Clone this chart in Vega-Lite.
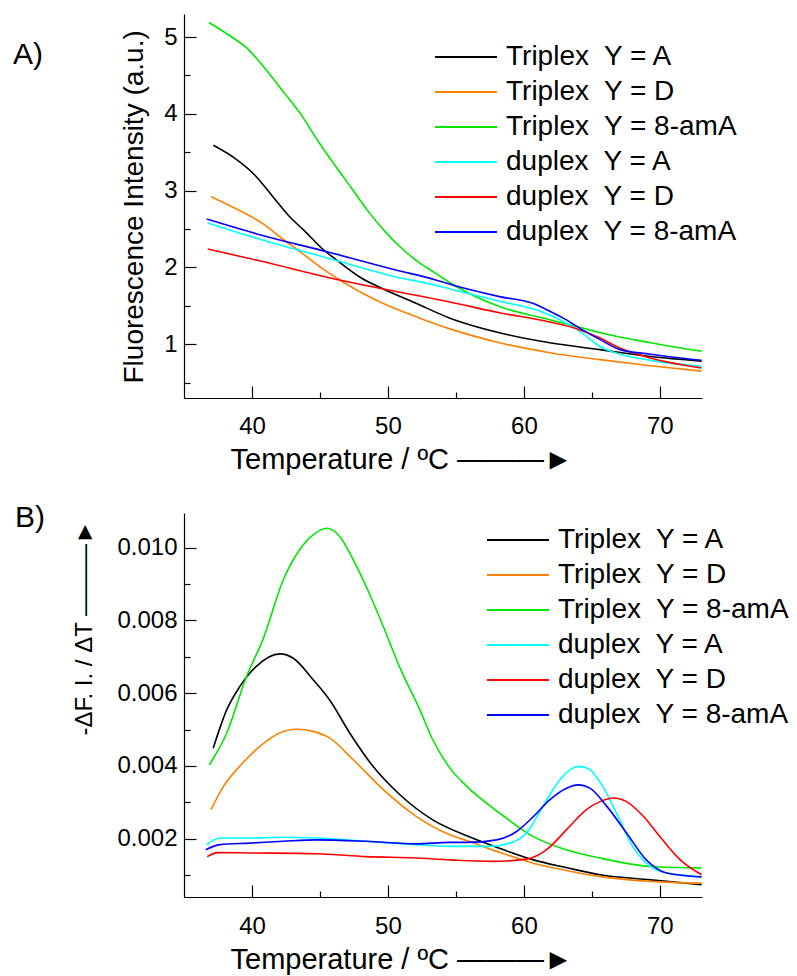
{
  "$schema": "https://vega.github.io/schema/vega-lite/v6.json",
  "padding": {"left": 13, "top": 14, "right": 5, "bottom": 5},
  "config": {
    "view": {"stroke": null},
    "font": "Liberation Sans",
    "axis": {"grid": false, "domainColor": "black", "domainWidth": 1.2, "tickColor": "black", "tickWidth": 1.2, "tickSize": 0, "labelColor": "black", "titleColor": "black", "labelFont": "Liberation Sans", "titleFont": "Liberation Sans", "labelFontSize": 24, "titleFontWeight": "normal", "labelFlush": false, "labelOverlap": false, "labelBound": false, "titleAlign": "left", "titleBaseline": "alphabetic"},
    "legend": {"orient": "none", "title": null, "labelFont": "Liberation Sans", "labelFontSize": 28, "labelColor": "black", "symbolType": "stroke", "symbolSize": 3844, "symbolStrokeWidth": 2, "clipHeight": 30, "rowPadding": 5, "labelOffset": 8, "padding": 0, "labelLimit": 400},
    "title": {"font": "Liberation Sans", "fontSize": 30, "fontWeight": "normal", "color": "black", "anchor": "start", "frame": "group", "baseline": "alphabetic", "offset": 0}
  },
  "bounds": "flush",
  "spacing": 115,
  "resolve": {"legend": {"color": "independent"}, "scale": {"color": "independent"}},
  "datasets": {
    "a": [
      {"s": "Triplex\u00a0 Y = A", "t": 37.16, "v": 3.59},
      {"s": "Triplex\u00a0 Y = A", "t": 38.75, "v": 3.42},
      {"s": "Triplex\u00a0 Y = A", "t": 40.22, "v": 3.2},
      {"s": "Triplex\u00a0 Y = A", "t": 41.45, "v": 2.94},
      {"s": "Triplex\u00a0 Y = A", "t": 42.67, "v": 2.68},
      {"s": "Triplex\u00a0 Y = A", "t": 43.9, "v": 2.47},
      {"s": "Triplex\u00a0 Y = A", "t": 45.13, "v": 2.25},
      {"s": "Triplex\u00a0 Y = A", "t": 46.35, "v": 2.08},
      {"s": "Triplex\u00a0 Y = A", "t": 48.07, "v": 1.86},
      {"s": "Triplex\u00a0 Y = A", "t": 49.54, "v": 1.73},
      {"s": "Triplex\u00a0 Y = A", "t": 51.99, "v": 1.54},
      {"s": "Triplex\u00a0 Y = A", "t": 54.56, "v": 1.34},
      {"s": "Triplex\u00a0 Y = A", "t": 58.2, "v": 1.15},
      {"s": "Triplex\u00a0 Y = A", "t": 61.9, "v": 1.02},
      {"s": "Triplex\u00a0 Y = A", "t": 65.6, "v": 0.93},
      {"s": "Triplex\u00a0 Y = A", "t": 69.3, "v": 0.84},
      {"s": "Triplex\u00a0 Y = A", "t": 73.07, "v": 0.78},

      {"s": "Triplex\u00a0 Y = D", "t": 36.99, "v": 2.92},
      {"s": "Triplex\u00a0 Y = D", "t": 38.75, "v": 2.77},
      {"s": "Triplex\u00a0 Y = D", "t": 40.71, "v": 2.58},
      {"s": "Triplex\u00a0 Y = D", "t": 42.18, "v": 2.38},
      {"s": "Triplex\u00a0 Y = D", "t": 43.65, "v": 2.19},
      {"s": "Triplex\u00a0 Y = D", "t": 45.13, "v": 1.99},
      {"s": "Triplex\u00a0 Y = D", "t": 46.6, "v": 1.82},
      {"s": "Triplex\u00a0 Y = D", "t": 48.07, "v": 1.67},
      {"s": "Triplex\u00a0 Y = D", "t": 49.78, "v": 1.52},
      {"s": "Triplex\u00a0 Y = D", "t": 52.35, "v": 1.34},
      {"s": "Triplex\u00a0 Y = D", "t": 54.56, "v": 1.2},
      {"s": "Triplex\u00a0 Y = D", "t": 58.2, "v": 1.02},
      {"s": "Triplex\u00a0 Y = D", "t": 61.9, "v": 0.89},
      {"s": "Triplex\u00a0 Y = D", "t": 65.6, "v": 0.8},
      {"s": "Triplex\u00a0 Y = D", "t": 69.3, "v": 0.72},
      {"s": "Triplex\u00a0 Y = D", "t": 73.07, "v": 0.65},

      {"s": "Triplex\u00a0 Y = 8-amA", "t": 36.84, "v": 5.19},
      {"s": "Triplex\u00a0 Y = 8-amA", "t": 38.26, "v": 5.03},
      {"s": "Triplex\u00a0 Y = 8-amA", "t": 39.73, "v": 4.84},
      {"s": "Triplex\u00a0 Y = 8-amA", "t": 40.96, "v": 4.59},
      {"s": "Triplex\u00a0 Y = 8-amA", "t": 42.43, "v": 4.26},
      {"s": "Triplex\u00a0 Y = 8-amA", "t": 43.65, "v": 3.98},
      {"s": "Triplex\u00a0 Y = 8-amA", "t": 44.88, "v": 3.64},
      {"s": "Triplex\u00a0 Y = 8-amA", "t": 46.1, "v": 3.33},
      {"s": "Triplex\u00a0 Y = 8-amA", "t": 47.33, "v": 3.03},
      {"s": "Triplex\u00a0 Y = 8-amA", "t": 48.55, "v": 2.73},
      {"s": "Triplex\u00a0 Y = 8-amA", "t": 49.78, "v": 2.47},
      {"s": "Triplex\u00a0 Y = 8-amA", "t": 51.0, "v": 2.25},
      {"s": "Triplex\u00a0 Y = 8-amA", "t": 52.48, "v": 2.04},
      {"s": "Triplex\u00a0 Y = 8-amA", "t": 53.46, "v": 1.93},
      {"s": "Triplex\u00a0 Y = 8-amA", "t": 54.56, "v": 1.8},
      {"s": "Triplex\u00a0 Y = 8-amA", "t": 58.2, "v": 1.49},
      {"s": "Triplex\u00a0 Y = 8-amA", "t": 61.9, "v": 1.32},
      {"s": "Triplex\u00a0 Y = 8-amA", "t": 64.1, "v": 1.22},
      {"s": "Triplex\u00a0 Y = 8-amA", "t": 65.6, "v": 1.15},
      {"s": "Triplex\u00a0 Y = 8-amA", "t": 69.3, "v": 1.02},
      {"s": "Triplex\u00a0 Y = 8-amA", "t": 73.07, "v": 0.91},

      {"s": "duplex\u00a0 Y = A", "t": 36.74, "v": 2.58},
      {"s": "duplex\u00a0 Y = A", "t": 40.71, "v": 2.36},
      {"s": "duplex\u00a0 Y = A", "t": 45.6, "v": 2.12},
      {"s": "duplex\u00a0 Y = A", "t": 50.5, "v": 1.88},
      {"s": "duplex\u00a0 Y = A", "t": 53.46, "v": 1.77},
      {"s": "duplex\u00a0 Y = A", "t": 54.56, "v": 1.72},
      {"s": "duplex\u00a0 Y = A", "t": 58.2, "v": 1.56},
      {"s": "duplex\u00a0 Y = A", "t": 61.2, "v": 1.43},
      {"s": "duplex\u00a0 Y = A", "t": 62.65, "v": 1.32},
      {"s": "duplex\u00a0 Y = A", "t": 64.1, "v": 1.17},
      {"s": "duplex\u00a0 Y = A", "t": 65.6, "v": 0.97},
      {"s": "duplex\u00a0 Y = A", "t": 67.06, "v": 0.87},
      {"s": "duplex\u00a0 Y = A", "t": 69.3, "v": 0.79},
      {"s": "duplex\u00a0 Y = A", "t": 73.07, "v": 0.71},

      {"s": "duplex\u00a0 Y = D", "t": 36.74, "v": 2.24},
      {"s": "duplex\u00a0 Y = D", "t": 40.71, "v": 2.08},
      {"s": "duplex\u00a0 Y = D", "t": 45.6, "v": 1.87},
      {"s": "duplex\u00a0 Y = D", "t": 50.5, "v": 1.69},
      {"s": "duplex\u00a0 Y = D", "t": 53.46, "v": 1.59},
      {"s": "duplex\u00a0 Y = D", "t": 54.56, "v": 1.55},
      {"s": "duplex\u00a0 Y = D", "t": 58.2, "v": 1.41},
      {"s": "duplex\u00a0 Y = D", "t": 61.9, "v": 1.29},
      {"s": "duplex\u00a0 Y = D", "t": 64.1, "v": 1.19},
      {"s": "duplex\u00a0 Y = D", "t": 65.6, "v": 1.08},
      {"s": "duplex\u00a0 Y = D", "t": 67.06, "v": 0.95},
      {"s": "duplex\u00a0 Y = D", "t": 69.3, "v": 0.82},
      {"s": "duplex\u00a0 Y = D", "t": 73.07, "v": 0.69},

      {"s": "duplex\u00a0 Y = 8-amA", "t": 36.67, "v": 2.63},
      {"s": "duplex\u00a0 Y = 8-amA", "t": 40.71, "v": 2.42},
      {"s": "duplex\u00a0 Y = 8-amA", "t": 45.6, "v": 2.2},
      {"s": "duplex\u00a0 Y = 8-amA", "t": 50.5, "v": 1.97},
      {"s": "duplex\u00a0 Y = 8-amA", "t": 53.46, "v": 1.84},
      {"s": "duplex\u00a0 Y = 8-amA", "t": 54.56, "v": 1.78},
      {"s": "duplex\u00a0 Y = 8-amA", "t": 58.2, "v": 1.62},
      {"s": "duplex\u00a0 Y = 8-amA", "t": 60.7, "v": 1.53},
      {"s": "duplex\u00a0 Y = 8-amA", "t": 61.9, "v": 1.43},
      {"s": "duplex\u00a0 Y = 8-amA", "t": 63.1, "v": 1.32},
      {"s": "duplex\u00a0 Y = 8-amA", "t": 64.1, "v": 1.21},
      {"s": "duplex\u00a0 Y = 8-amA", "t": 65.6, "v": 1.06},
      {"s": "duplex\u00a0 Y = 8-amA", "t": 67.06, "v": 0.93},
      {"s": "duplex\u00a0 Y = 8-amA", "t": 69.3, "v": 0.87},
      {"s": "duplex\u00a0 Y = 8-amA", "t": 73.07, "v": 0.79}
    ],
    "b": [
      {"s": "Triplex\u00a0 Y = A", "t": 37.15, "v": 0.00449},
      {"s": "Triplex\u00a0 Y = A", "t": 38.14, "v": 0.00554},
      {"s": "Triplex\u00a0 Y = A", "t": 39.1, "v": 0.00618},
      {"s": "Triplex\u00a0 Y = A", "t": 40.3, "v": 0.00673},
      {"s": "Triplex\u00a0 Y = A", "t": 42.06, "v": 0.00708},
      {"s": "Triplex\u00a0 Y = A", "t": 43.04, "v": 0.00696},
      {"s": "Triplex\u00a0 Y = A", "t": 44.5, "v": 0.00637},
      {"s": "Triplex\u00a0 Y = A", "t": 45.7, "v": 0.00582},
      {"s": "Triplex\u00a0 Y = A", "t": 47.2, "v": 0.0049},
      {"s": "Triplex\u00a0 Y = A", "t": 48.9, "v": 0.00399},
      {"s": "Triplex\u00a0 Y = A", "t": 50.88, "v": 0.00321},
      {"s": "Triplex\u00a0 Y = A", "t": 53.3, "v": 0.00252},
      {"s": "Triplex\u00a0 Y = A", "t": 55.8, "v": 0.00208},
      {"s": "Triplex\u00a0 Y = A", "t": 58.2, "v": 0.00174},
      {"s": "Triplex\u00a0 Y = A", "t": 60.7, "v": 0.00142},
      {"s": "Triplex\u00a0 Y = A", "t": 63.1, "v": 0.00121},
      {"s": "Triplex\u00a0 Y = A", "t": 65.6, "v": 0.00101},
      {"s": "Triplex\u00a0 Y = A", "t": 69.3, "v": 0.00087},
      {"s": "Triplex\u00a0 Y = A", "t": 73.07, "v": 0.00074},

      {"s": "Triplex\u00a0 Y = D", "t": 36.99, "v": 0.0028},
      {"s": "Triplex\u00a0 Y = D", "t": 37.9, "v": 0.00344},
      {"s": "Triplex\u00a0 Y = D", "t": 39.1, "v": 0.00399},
      {"s": "Triplex\u00a0 Y = D", "t": 40.3, "v": 0.00445},
      {"s": "Triplex\u00a0 Y = D", "t": 42.3, "v": 0.00495},
      {"s": "Triplex\u00a0 Y = D", "t": 43.3, "v": 0.00501},
      {"s": "Triplex\u00a0 Y = D", "t": 44.5, "v": 0.00495},
      {"s": "Triplex\u00a0 Y = D", "t": 45.7, "v": 0.00477},
      {"s": "Triplex\u00a0 Y = D", "t": 47.45, "v": 0.00417},
      {"s": "Triplex\u00a0 Y = D", "t": 49.66, "v": 0.00335},
      {"s": "Triplex\u00a0 Y = D", "t": 52.1, "v": 0.00261},
      {"s": "Triplex\u00a0 Y = D", "t": 54.56, "v": 0.00211},
      {"s": "Triplex\u00a0 Y = D", "t": 55.8, "v": 0.00195},
      {"s": "Triplex\u00a0 Y = D", "t": 58.2, "v": 0.00163},
      {"s": "Triplex\u00a0 Y = D", "t": 60.7, "v": 0.00133},
      {"s": "Triplex\u00a0 Y = D", "t": 63.1, "v": 0.00113},
      {"s": "Triplex\u00a0 Y = D", "t": 65.6, "v": 0.00096},
      {"s": "Triplex\u00a0 Y = D", "t": 69.3, "v": 0.00083},
      {"s": "Triplex\u00a0 Y = D", "t": 73.07, "v": 0.00078},

      {"s": "Triplex\u00a0 Y = 8-amA", "t": 36.86, "v": 0.00403},
      {"s": "Triplex\u00a0 Y = 8-amA", "t": 38.14, "v": 0.0049},
      {"s": "Triplex\u00a0 Y = 8-amA", "t": 39.6, "v": 0.00646},
      {"s": "Triplex\u00a0 Y = 8-amA", "t": 40.8, "v": 0.00747},
      {"s": "Triplex\u00a0 Y = 8-amA", "t": 42.3, "v": 0.00911},
      {"s": "Triplex\u00a0 Y = 8-amA", "t": 43.5, "v": 0.00994},
      {"s": "Triplex\u00a0 Y = 8-amA", "t": 44.5, "v": 0.01035},
      {"s": "Triplex\u00a0 Y = 8-amA", "t": 45.5, "v": 0.01053},
      {"s": "Triplex\u00a0 Y = 8-amA", "t": 46.47, "v": 0.0103},
      {"s": "Triplex\u00a0 Y = 8-amA", "t": 47.45, "v": 0.00966},
      {"s": "Triplex\u00a0 Y = 8-amA", "t": 48.4, "v": 0.00893},
      {"s": "Triplex\u00a0 Y = 8-amA", "t": 49.66, "v": 0.00783},
      {"s": "Triplex\u00a0 Y = 8-amA", "t": 50.88, "v": 0.0067},
      {"s": "Triplex\u00a0 Y = 8-amA", "t": 52.35, "v": 0.00554},
      {"s": "Triplex\u00a0 Y = 8-amA", "t": 53.3, "v": 0.00472},
      {"s": "Triplex\u00a0 Y = 8-amA", "t": 54.56, "v": 0.00394},
      {"s": "Triplex\u00a0 Y = 8-amA", "t": 55.8, "v": 0.00344},
      {"s": "Triplex\u00a0 Y = 8-amA", "t": 58.2, "v": 0.00271},
      {"s": "Triplex\u00a0 Y = 8-amA", "t": 60.7, "v": 0.00206},
      {"s": "Triplex\u00a0 Y = 8-amA", "t": 63.1, "v": 0.0017},
      {"s": "Triplex\u00a0 Y = 8-amA", "t": 65.6, "v": 0.00147},
      {"s": "Triplex\u00a0 Y = 8-amA", "t": 69.3, "v": 0.00124},
      {"s": "Triplex\u00a0 Y = 8-amA", "t": 73.07, "v": 0.0012},

      {"s": "duplex\u00a0 Y = A", "t": 36.67, "v": 0.00184},
      {"s": "duplex\u00a0 Y = A", "t": 37.65, "v": 0.00202},
      {"s": "duplex\u00a0 Y = A", "t": 39.85, "v": 0.00202},
      {"s": "duplex\u00a0 Y = A", "t": 42.3, "v": 0.00204},
      {"s": "duplex\u00a0 Y = A", "t": 44.75, "v": 0.00202},
      {"s": "duplex\u00a0 Y = A", "t": 48.4, "v": 0.00193},
      {"s": "duplex\u00a0 Y = A", "t": 52.1, "v": 0.00184},
      {"s": "duplex\u00a0 Y = A", "t": 54.56, "v": 0.00179},
      {"s": "duplex\u00a0 Y = A", "t": 57.5, "v": 0.00179},
      {"s": "duplex\u00a0 Y = A", "t": 58.97, "v": 0.00188},
      {"s": "duplex\u00a0 Y = A", "t": 60.2, "v": 0.00216},
      {"s": "duplex\u00a0 Y = A", "t": 61.4, "v": 0.00289},
      {"s": "duplex\u00a0 Y = A", "t": 62.65, "v": 0.00362},
      {"s": "duplex\u00a0 Y = A", "t": 63.4, "v": 0.0039},
      {"s": "duplex\u00a0 Y = A", "t": 64.1, "v": 0.00399},
      {"s": "duplex\u00a0 Y = A", "t": 64.85, "v": 0.0039},
      {"s": "duplex\u00a0 Y = A", "t": 65.8, "v": 0.00344},
      {"s": "duplex\u00a0 Y = A", "t": 66.8, "v": 0.00271},
      {"s": "duplex\u00a0 Y = A", "t": 68.0, "v": 0.00179},
      {"s": "duplex\u00a0 Y = A", "t": 69.3, "v": 0.00124},
      {"s": "duplex\u00a0 Y = A", "t": 70.5, "v": 0.00106},
      {"s": "duplex\u00a0 Y = A", "t": 73.07, "v": 0.00096},

      {"s": "duplex\u00a0 Y = D", "t": 36.7, "v": 0.00151},
      {"s": "duplex\u00a0 Y = D", "t": 37.5, "v": 0.00162},
      {"s": "duplex\u00a0 Y = D", "t": 39.85, "v": 0.00161},
      {"s": "duplex\u00a0 Y = D", "t": 44.75, "v": 0.00159},
      {"s": "duplex\u00a0 Y = D", "t": 48.4, "v": 0.00151},
      {"s": "duplex\u00a0 Y = D", "t": 52.1, "v": 0.00147},
      {"s": "duplex\u00a0 Y = D", "t": 54.56, "v": 0.00142},
      {"s": "duplex\u00a0 Y = D", "t": 57.74, "v": 0.00138},
      {"s": "duplex\u00a0 Y = D", "t": 60.2, "v": 0.00144},
      {"s": "duplex\u00a0 Y = D", "t": 61.67, "v": 0.0017},
      {"s": "duplex\u00a0 Y = D", "t": 63.14, "v": 0.00225},
      {"s": "duplex\u00a0 Y = D", "t": 64.6, "v": 0.0028},
      {"s": "duplex\u00a0 Y = D", "t": 65.6, "v": 0.00302},
      {"s": "duplex\u00a0 Y = D", "t": 66.6, "v": 0.00312},
      {"s": "duplex\u00a0 Y = D", "t": 67.55, "v": 0.00302},
      {"s": "duplex\u00a0 Y = D", "t": 68.8, "v": 0.00261},
      {"s": "duplex\u00a0 Y = D", "t": 70.0, "v": 0.00206},
      {"s": "duplex\u00a0 Y = D", "t": 71.5, "v": 0.00142},
      {"s": "duplex\u00a0 Y = D", "t": 73.07, "v": 0.00101},

      {"s": "duplex\u00a0 Y = 8-amA", "t": 36.6, "v": 0.0017},
      {"s": "duplex\u00a0 Y = 8-amA", "t": 37.65, "v": 0.00184},
      {"s": "duplex\u00a0 Y = 8-amA", "t": 39.85, "v": 0.00188},
      {"s": "duplex\u00a0 Y = 8-amA", "t": 42.3, "v": 0.00193},
      {"s": "duplex\u00a0 Y = 8-amA", "t": 44.75, "v": 0.00197},
      {"s": "duplex\u00a0 Y = 8-amA", "t": 48.4, "v": 0.00193},
      {"s": "duplex\u00a0 Y = 8-amA", "t": 52.1, "v": 0.00186},
      {"s": "duplex\u00a0 Y = 8-amA", "t": 54.56, "v": 0.0019},
      {"s": "duplex\u00a0 Y = 8-amA", "t": 55.8, "v": 0.0019},
      {"s": "duplex\u00a0 Y = 8-amA", "t": 58.0, "v": 0.00197},
      {"s": "duplex\u00a0 Y = 8-amA", "t": 59.46, "v": 0.0022},
      {"s": "duplex\u00a0 Y = 8-amA", "t": 60.7, "v": 0.00261},
      {"s": "duplex\u00a0 Y = 8-amA", "t": 61.9, "v": 0.00307},
      {"s": "duplex\u00a0 Y = 8-amA", "t": 63.14, "v": 0.00339},
      {"s": "duplex\u00a0 Y = 8-amA", "t": 64.0, "v": 0.00348},
      {"s": "duplex\u00a0 Y = 8-amA", "t": 64.85, "v": 0.00339},
      {"s": "duplex\u00a0 Y = 8-amA", "t": 66.1, "v": 0.00289},
      {"s": "duplex\u00a0 Y = 8-amA", "t": 67.55, "v": 0.00216},
      {"s": "duplex\u00a0 Y = 8-amA", "t": 69.0, "v": 0.00142},
      {"s": "duplex\u00a0 Y = 8-amA", "t": 70.5, "v": 0.00106},
      {"s": "duplex\u00a0 Y = 8-amA", "t": 73.07, "v": 0.00095}
    ]
  },
  "vconcat": [
    {
      "title": {"text": "A)", "dx": -171, "dy": 60},
      "width": 518,
      "height": 384,
      "data": {"name": "a"},
      "mark": {"type": "line", "strokeWidth": 1.6, "interpolate": "monotone"},
      "encoding": {
        "x": {
          "field": "t", "type": "quantitative",
          "scale": {"domain": [35, 73.1], "nice": false, "zero": false},
          "axis": {
            "values": [40, 45, 50, 55, 60, 65, 70],
            "labelExpr": "datum.value % 10 === 0 ? format(datum.value, 'd') : ''",
            "labelPadding": 16,
            "title": "Temperature / ºC ———►",
            "titleFontSize": 29,
            "titleX": 46,
            "titleY": 70,
            "encoding": {"ticks": {"y2": {"condition": {"test": "datum.value % 10 === 0", "value": -12}, "value": -6}}}
          }
        },
        "y": {
          "field": "v", "type": "quantitative",
          "scale": {"domain": [0.3, 5.3], "nice": false, "zero": false},
          "axis": {
            "values": [0.5, 1, 1.5, 2, 2.5, 3, 3.5, 4, 4.5, 5],
            "labelExpr": "datum.value % 1 === 0 ? format(datum.value, 'd') : ''",
            "labelPadding": 7,
            "title": "Fluorescence Intensity (a.u.)",
            "titleFontSize": 28,
            "titleX": -42,
            "titleY": 369,
            "encoding": {"ticks": {"x2": {"condition": {"test": "datum.value % 1 === 0", "value": 12}, "value": 6}}}
          }
        },
        "color": {
          "field": "s", "type": "nominal",
          "scale": {
            "domain": ["Triplex\u00a0 Y = A", "Triplex\u00a0 Y = D", "Triplex\u00a0 Y = 8-amA", "duplex\u00a0 Y = A", "duplex\u00a0 Y = D", "duplex\u00a0 Y = 8-amA"],
            "range": ["#000000", "#ff8000", "#00e600", "#00ffff", "#ff0000", "#0000ff"]
          },
          "legend": {"legendX": 250, "legendY": 28}
        }
      }
    },
    {
      "title": {"text": "B)", "dx": -169, "dy": 24},
      "width": 518,
      "height": 384,
      "data": {"name": "b"},
      "mark": {"type": "line", "strokeWidth": 1.6, "interpolate": "monotone"},
      "encoding": {
        "x": {
          "field": "t", "type": "quantitative",
          "scale": {"domain": [35, 73.1], "nice": false, "zero": false},
          "axis": {
            "values": [40, 45, 50, 55, 60, 65, 70],
            "labelExpr": "datum.value % 10 === 0 ? format(datum.value, 'd') : ''",
            "labelPadding": 17,
            "title": "Temperature / ºC ———►",
            "titleFontSize": 29,
            "titleX": 46,
            "titleY": 71,
            "encoding": {"ticks": {"y2": {"condition": {"test": "datum.value % 10 === 0", "value": -12}, "value": -6}}}
          }
        },
        "y": {
          "field": "v", "type": "quantitative",
          "scale": {"domain": [0.0004, 0.01095], "nice": false, "zero": false},
          "axis": {
            "values": [0.001, 0.002, 0.003, 0.004, 0.005, 0.006, 0.007, 0.008, 0.009, 0.01],
            "labelExpr": "round(datum.value * 1000) % 2 === 0 ? format(datum.value, '.3f') : ''",
            "labelPadding": 7,
            "title": "-ΔF. I. / ΔT ———►",
            "titleFontSize": 24,
            "titleX": -92.5,
            "titleY": 222,
            "encoding": {"ticks": {"x2": {"condition": {"test": "round(datum.value * 1000) % 2 === 0", "value": 12}, "value": 6}}}
          }
        },
        "color": {
          "field": "s", "type": "nominal",
          "scale": {
            "domain": ["Triplex\u00a0 Y = A", "Triplex\u00a0 Y = D", "Triplex\u00a0 Y = 8-amA", "duplex\u00a0 Y = A", "duplex\u00a0 Y = D", "duplex\u00a0 Y = 8-amA"],
            "range": ["#000000", "#ff8000", "#00e600", "#00ffff", "#ff0000", "#0000ff"]
          },
          "legend": {"legendX": 302, "legendY": 12}
        }
      }
    }
  ]
}
